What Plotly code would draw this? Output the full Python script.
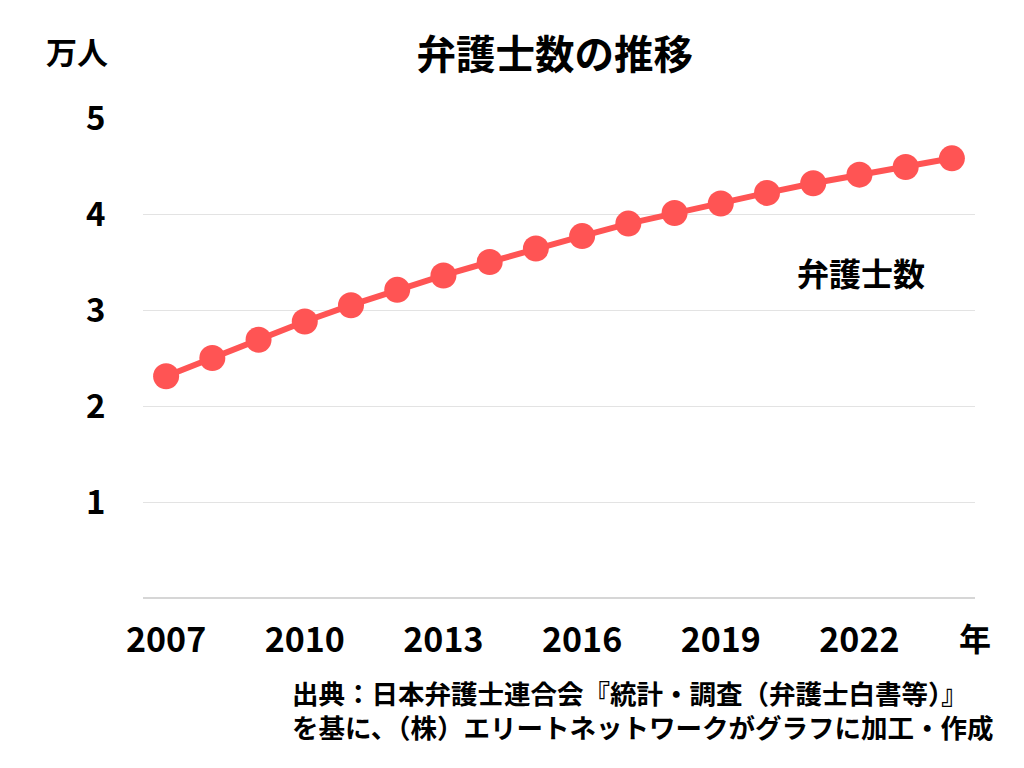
import plotly.graph_objects as go

years = list(range(2007, 2025))
lawyers_man = [2.31, 2.50, 2.69, 2.88, 3.05, 3.21, 3.36, 3.50, 3.64, 3.77, 3.90, 4.01, 4.11, 4.22, 4.32, 4.41, 4.49, 4.58]
x_ticks = [2007, 2010, 2013, 2016, 2019, 2022]
y_ticks = [0, 1, 2, 3, 4, 5]
y_tick_labels = ["", "1", "2", "3", "4", "5"]

FONT = "Noto Sans CJK JP"
RED = "#FF5454"
GRID = "#e3e3e3"

fig = go.Figure()
fig.add_trace(go.Scatter(
    x=years, y=lawyers_man, mode="lines+markers",
    line=dict(color=RED, width=6),
    marker=dict(color=RED, size=26),
    showlegend=False, hoverinfo="skip", cliponaxis=False,
))

fig.update_layout(
    width=1024, height=768,
    margin=dict(l=135, r=57, t=110, b=178),
    paper_bgcolor="white", plot_bgcolor="white",
    font=dict(family=FONT, color="#000000"),
    title=dict(text="<b>弁護士数の推移</b>", x=0.534, xanchor="center", y=0.939, yanchor="middle",
               font=dict(size=39.5, family=FONT, color="#000")),
    xaxis=dict(range=[2006.5, 2024.5], tickvals=x_ticks, ticktext=[f"<b>{v}</b>" for v in x_ticks],
               showgrid=False, zeroline=False, showline=False, automargin=False,
               ticks="outside", ticklen=12, tickcolor="rgba(0,0,0,0)",
               tickfont=dict(size=34, family=FONT, color="#000")),
    yaxis=dict(range=[0, 5.0], tickvals=y_ticks, ticktext=[f"<b>{t}</b>" for t in y_tick_labels],
               showgrid=True, gridcolor=GRID, gridwidth=1,
               zeroline=True, zerolinecolor="#d6d6d6", zerolinewidth=2,
               showline=False, automargin=False,
               ticks="outside", ticklen=30, tickcolor="rgba(0,0,0,0)",
               tickfont=dict(size=33, family=FONT, color="#000")),
)

fig.add_annotation(x=(77 - 143) / 832, y=1 + (118 - 50) / 480, xref="paper", yref="paper",
                   text="<b>万人</b>", showarrow=False, xanchor="center", yanchor="middle",
                   font=dict(size=31, family=FONT, color="#000"))

fig.add_annotation(x=(975 - 143) / 832, y=1 - (637 - 118) / 480, xref="paper", yref="paper",
                   text="<b>年</b>", showarrow=False,
                   xanchor="center", yanchor="middle", font=dict(size=32, family=FONT, color="#000"))

fig.add_annotation(x=(861 - 143) / 832, y=1 - (272 - 118) / 480, xref="paper", yref="paper",
                   text="<b>弁護士数</b>", showarrow=False,
                   xanchor="center", yanchor="middle", font=dict(size=32, family=FONT, color="#000"))

fig.add_annotation(x=(290 - 143) / 832, y=1 - (709 - 118) / 480, xref="paper", yref="paper",
                   text="<b>出典：日本弁護士連合会『統計・調査（弁護士白書等）』</b><br><b>を基に、（株）エリートネットワークがグラフに加工・作成</b>",
                   showarrow=False, xanchor="left", yanchor="middle", align="left",
                   font=dict(size=26.5, family=FONT, color="#000"))

fig.write_html("out.html")
